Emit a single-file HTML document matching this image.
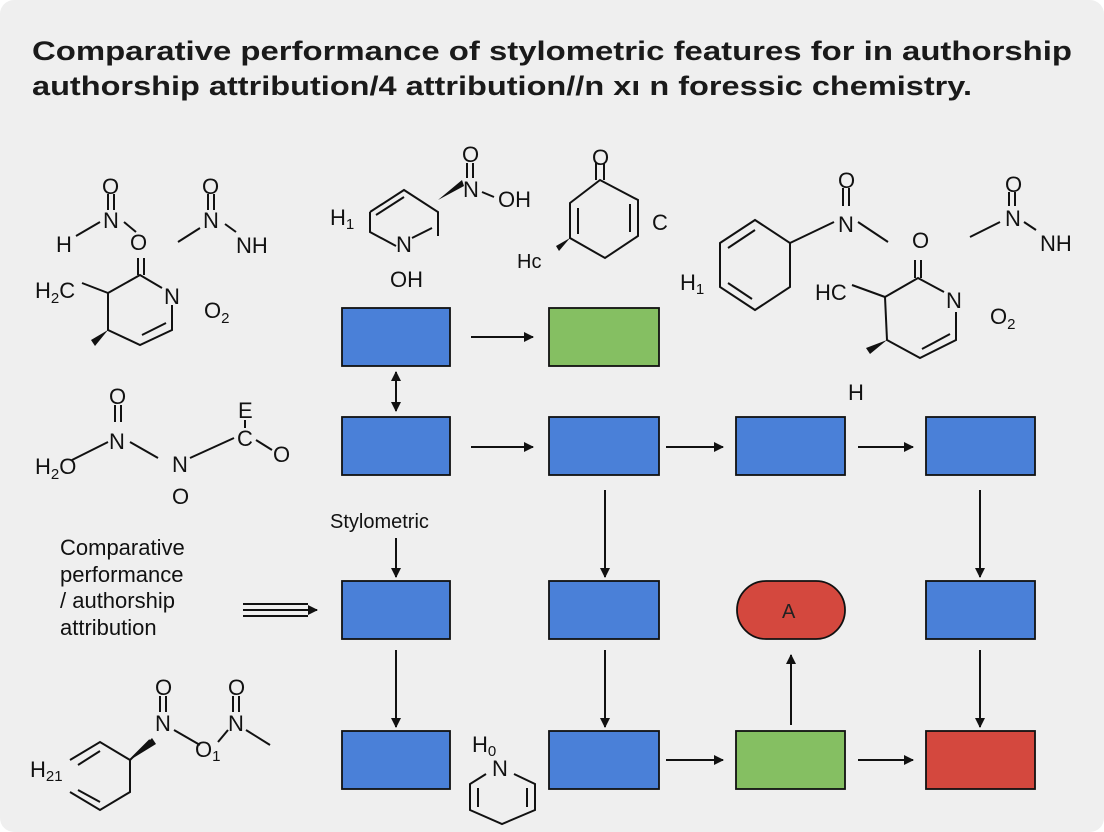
<!DOCTYPE html>
<html><head><meta charset="utf-8"><style>
html,body{margin:0;padding:0;background:#fff;}
svg{display:block;}
text{font-family:"Liberation Sans",sans-serif;fill:#111;}
</style></head><body>
<svg width="1104" height="832" viewBox="0 0 1104 832" xmlns="http://www.w3.org/2000/svg">
<defs>
<marker id="ah" markerWidth="10" markerHeight="10" refX="9" refY="5" orient="auto" markerUnits="userSpaceOnUse"><path d="M0,0 L10,5 L0,10 z" fill="#111"/></marker>
<marker id="ahs" markerWidth="10" markerHeight="10" refX="1" refY="5" orient="auto" markerUnits="userSpaceOnUse"><path d="M10,0 L0,5 L10,10 z" fill="#111"/></marker>
</defs>
<rect x="0" y="0" width="1104" height="832" rx="14" fill="#efefef"/>
<text x="32" y="60" font-size="27" font-weight="bold" textLength="1040" lengthAdjust="spacingAndGlyphs" style="fill:#1a1a1a">Comparative performance of stylometric features for in authorship</text>
<text x="32" y="95" font-size="27" font-weight="bold" textLength="940" lengthAdjust="spacingAndGlyphs" style="fill:#1a1a1a">authorship attribution/4 attribution//n xı n foressic chemistry.</text>

<g stroke="#111" stroke-width="2" fill="none">
<line x1="108" y1="194" x2="108" y2="210"/><line x1="114" y1="194" x2="114" y2="210"/>
<line x1="76" y1="236" x2="100" y2="222"/><line x1="124" y1="222" x2="136" y2="232"/>
<line x1="208" y1="194" x2="208" y2="210"/><line x1="214" y1="194" x2="214" y2="210"/>
<line x1="178" y1="242" x2="200" y2="228"/><line x1="225" y1="224" x2="236" y2="232"/>
<line x1="82" y1="283" x2="108" y2="293"/>
<path d="M108,293 L140,275 L162,288 M172,305 L172,330 L140,345 L108,330 L108,293"/>
<line x1="138" y1="258" x2="138" y2="275"/><line x1="144" y1="258" x2="144" y2="275"/>
<line x1="142" y1="335" x2="166" y2="323"/>
<line x1="115" y1="405" x2="115" y2="422"/><line x1="121" y1="405" x2="121" y2="422"/>
<line x1="72" y1="460" x2="108" y2="442"/><line x1="130" y1="442" x2="158" y2="458"/>
<line x1="190" y1="458" x2="234" y2="438"/><line x1="245" y1="420" x2="245" y2="428"/>
<line x1="256" y1="440" x2="272" y2="450"/>
<path d="M370,212 L404,190 L438,212 L438,236 M396,246 L370,232 L370,212"/>
<line x1="376" y1="215" x2="404" y2="197"/><line x1="412" y1="238" x2="432" y2="228"/>
<line x1="467" y1="163" x2="467" y2="178"/><line x1="473" y1="163" x2="473" y2="178"/>
<line x1="482" y1="192" x2="494" y2="197"/>
<path d="M570,203 L600,180 L638,200 L638,236 L605,258 L570,238 Z"/>
<line x1="596" y1="163" x2="596" y2="180"/><line x1="604" y1="163" x2="604" y2="180"/>
<line x1="578" y1="208" x2="578" y2="234"/><line x1="630" y1="204" x2="630" y2="232"/>
<path d="M720,243 L755,220 L790,243 L790,287 L755,310 L720,287 Z"/>
<line x1="728" y1="248" x2="755" y2="230"/><line x1="728" y1="283" x2="752" y2="299"/>
<line x1="790" y1="243" x2="834" y2="222"/><line x1="858" y1="222" x2="888" y2="242"/>
<line x1="843" y1="188" x2="843" y2="206"/><line x1="849" y1="188" x2="849" y2="206"/>
<line x1="1009" y1="192" x2="1009" y2="206"/><line x1="1015" y1="192" x2="1015" y2="206"/>
<line x1="970" y1="237" x2="1000" y2="222"/><line x1="1024" y1="222" x2="1036" y2="230"/>
<line x1="852" y1="285" x2="885" y2="297"/>
<path d="M885,297 L918,278 L944,292 M956,312 L956,340 L920,358 L887,340 L885,297"/>
<line x1="915" y1="260" x2="915" y2="278"/><line x1="921" y1="260" x2="921" y2="278"/>
<line x1="922" y1="349" x2="950" y2="334"/>
<path d="M70,760 L100,742 L130,760 L130,792 L100,810 L70,792"/>
<line x1="78" y1="765" x2="100" y2="751"/><line x1="78" y1="790" x2="100" y2="802"/>
<line x1="130" y1="760" x2="150" y2="740"/>
<line x1="160" y1="696" x2="160" y2="712"/><line x1="166" y1="696" x2="166" y2="712"/>
<line x1="174" y1="730" x2="200" y2="745"/><line x1="218" y1="742" x2="228" y2="730"/>
<line x1="233" y1="696" x2="233" y2="712"/><line x1="239" y1="696" x2="239" y2="712"/>
<line x1="246" y1="730" x2="270" y2="745"/>
<path d="M486,774 L470,784 L470,810 L502,824 L535,810 L535,784 L514,774"/>
<line x1="478" y1="788" x2="478" y2="807"/><line x1="527" y1="788" x2="527" y2="807"/>
</g>
<g fill="#111">
<polygon points="108,330 91,340 95,346"/>
<polygon points="438,200 462,180 464,186"/>
<polygon points="570,238 556,246 559,251"/>
<polygon points="887,340 866,348 870,354"/>
<polygon points="130,760 152,738 156,744"/>
</g>
<g font-size="22">
<text x="102" y="194">O</text><text x="103" y="228">N</text><text x="56" y="252">H</text><text x="130" y="250">O</text>
<text x="202" y="194">O</text><text x="203" y="228">N</text><text x="236" y="253">NH</text>
<text x="35" y="298">H<tspan font-size="15" dy="5">2</tspan><tspan dy="-5">C</tspan></text>
<text x="164" y="304">N</text><text x="204" y="318">O<tspan font-size="15" dy="5">2</tspan></text>
<text x="109" y="404">O</text><text x="109" y="449">N</text>
<text x="35" y="474">H<tspan font-size="15" dy="5">2</tspan><tspan dy="-5">O</tspan></text>
<text x="172" y="472">N</text><text x="172" y="504">O</text><text x="238" y="418">E</text><text x="237" y="446">C</text><text x="273" y="462">O</text>
<text x="330" y="225">H<tspan font-size="15" dy="4">1</tspan></text>
<text x="396" y="252">N</text><text x="390" y="287">OH</text>
<text x="462" y="162">O</text><text x="463" y="197">N</text><text x="498" y="207">OH</text>
<text x="592" y="165">O</text><text x="652" y="230">C</text><text x="517" y="268" font-size="20">Hc</text>
<text x="680" y="290">H<tspan font-size="15" dy="4">1</tspan></text>
<text x="838" y="188">O</text><text x="838" y="232">N</text>
<text x="1005" y="192">O</text><text x="1005" y="226">N</text><text x="1040" y="251">NH</text>
<text x="815" y="300">HC</text><text x="912" y="248">O</text><text x="946" y="308">N</text>
<text x="990" y="324">O<tspan font-size="15" dy="5">2</tspan></text><text x="848" y="400">H</text>
<text x="155" y="695">O</text><text x="155" y="731">N</text><text x="30" y="777">H<tspan font-size="15" dy="4">21</tspan></text>
<text x="195" y="757">O<tspan font-size="15" dy="4">1</tspan></text><text x="228" y="695">O</text><text x="228" y="731">N</text>
<text x="472" y="752">H<tspan font-size="15" dy="4">0</tspan></text><text x="492" y="776">N</text>
</g>
<g font-size="22" style="fill:#222">
<text x="60" y="555">Comparative</text><text x="60" y="582">performance</text>
<text x="60" y="608">/ authorship</text><text x="60" y="635">attribution</text>
</g>
<text x="330" y="528" font-size="20">Stylometric</text>

<g stroke="#111" stroke-width="1.8">
<rect x="342" y="308" width="108" height="58" fill="#4a80d8"/>
<rect x="549" y="308" width="110" height="58" fill="#85bf62"/>
<rect x="342" y="417" width="108" height="58" fill="#4a80d8"/>
<rect x="549" y="417" width="110" height="58" fill="#4a80d8"/>
<rect x="736" y="417" width="109" height="58" fill="#4a80d8"/>
<rect x="926" y="417" width="109" height="58" fill="#4a80d8"/>
<rect x="342" y="581" width="108" height="58" fill="#4a80d8"/>
<rect x="549" y="581" width="110" height="58" fill="#4a80d8"/>
<rect x="737" y="581" width="108" height="58" rx="29" fill="#d4483e"/>
<rect x="926" y="581" width="109" height="58" fill="#4a80d8"/>
<rect x="342" y="731" width="108" height="58" fill="#4a80d8"/>
<rect x="549" y="731" width="110" height="58" fill="#4a80d8"/>
<rect x="736" y="731" width="109" height="58" fill="#85bf62"/>
<rect x="926" y="731" width="109" height="58" fill="#d4483e"/>
</g>
<text x="782" y="618" font-size="20" style="fill:#222">A</text>

<g stroke="#111" stroke-width="2" marker-end="url(#ah)">
<line x1="471" y1="337" x2="533" y2="337"/>
<line x1="396" y1="372" x2="396" y2="411" marker-start="url(#ahs)"/>
<line x1="471" y1="447" x2="533" y2="447"/>
<line x1="666" y1="447" x2="723" y2="447"/>
<line x1="858" y1="447" x2="913" y2="447"/>
<line x1="605" y1="490" x2="605" y2="577"/>
<line x1="980" y1="490" x2="980" y2="577"/>
<line x1="396" y1="538" x2="396" y2="577"/>
<line x1="396" y1="650" x2="396" y2="727"/>
<line x1="605" y1="650" x2="605" y2="727"/>
<line x1="980" y1="650" x2="980" y2="727"/>
<line x1="791" y1="725" x2="791" y2="655"/>
<line x1="666" y1="760" x2="723" y2="760"/>
<line x1="858" y1="760" x2="913" y2="760"/>
<line x1="243" y1="610" x2="317" y2="610"/>
</g>
<g stroke="#111" stroke-width="2">
<line x1="243" y1="604" x2="308" y2="604"/><line x1="243" y1="616" x2="308" y2="616"/>
</g>
</svg>
</body></html>
